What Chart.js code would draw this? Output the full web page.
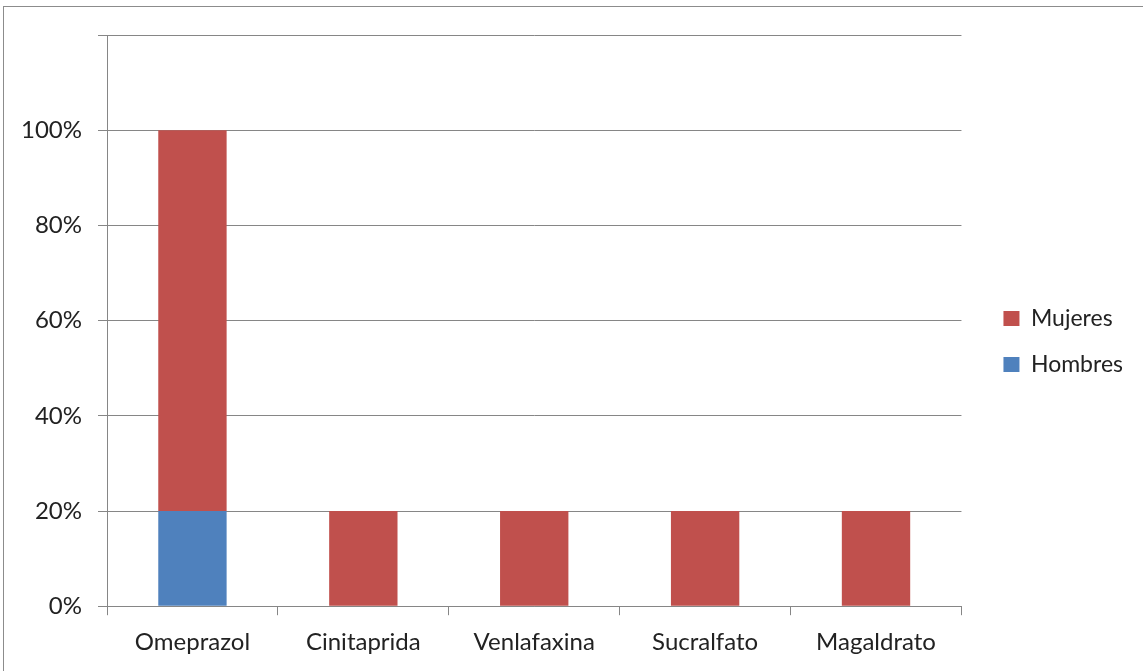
<!DOCTYPE html>
<html>
<head>
<meta charset="utf-8">
<script src="https://cdn.jsdelivr.net/npm/chart.js@4/dist/chart.umd.min.js"></script>
<style>
  html, body { margin: 0; padding: 0; background: #fff; overflow: hidden; }
  #frame { position: absolute; left: 3px; top: 6px; width: 1200px; height: 700px; border: 1px solid #8c8c8c; }
  #wrap { position: absolute; left: 0; top: 0; width: 1143px; height: 671px; }
</style>
</head>
<body>
<div id="frame"></div>
<div id="wrap"><canvas id="chart"></canvas></div>
<script>
const categories = ['Omeprazol', 'Cinitaprida', 'Venlafaxina', 'Sucralfato', 'Magaldrato'];
const hombres = [20, 0, 0, 0, 0];
const mujeres = [80, 20, 20, 20, 20];
const yTicks = [0, 20, 40, 60, 80, 100, 120];

const gridGray = '#868686';
const fontFamily = "Lato, 'Open Sans', sans-serif";

// nudge the legend a bit right and up, like the spreadsheet layout
const legendShift = {
  id: 'legendShift',
  afterLayout(chart) {
    const lg = chart.legend;
    lg.left += 19; lg.right += 19;
    lg.top -= 11; lg.bottom -= 11;
  }
};

new Chart(document.getElementById('chart'), {
  type: 'bar',
  data: {
    labels: categories,
    datasets: [
      { label: 'Hombres', data: hombres, backgroundColor: '#4F81BD', barPercentage: 0.4, categoryPercentage: 1 },
      { label: 'Mujeres', data: mujeres, backgroundColor: '#C0504D', barPercentage: 0.4, categoryPercentage: 1 }
    ]
  },
  options: {
    responsive: true,
    maintainAspectRatio: false,
    animation: false,
    layout: { padding: { left: 0, right: 29, top: 35, bottom: 1 } },
    plugins: {
      tooltip: { enabled: false },
      legend: {
        position: 'right',
        reverse: true,
        labels: {
          boxWidth: 16,
          boxHeight: 15,
          padding: 23,
          color: '#222',
          font: { family: fontFamily, size: 23 }
        }
      }
    },
    scales: {
      x: {
        stacked: true,
        grid: { display: true, drawOnChartArea: false, offset: true, color: gridGray, tickLength: 9 },
        border: { color: gridGray },
        ticks: { color: '#222', padding: 13, font: { family: fontFamily, size: 24 } }
      },
      y: {
        stacked: true,
        min: 0,
        max: 120,
        afterBuildTicks: (scale) => { scale.ticks = yTicks.map(v => ({ value: v })); },
        afterFit: (scale) => { scale.width = 107; },
        grid: { color: gridGray, tickLength: 9 },
        border: { color: gridGray },
        ticks: {
          color: '#222',
          padding: 16,
          font: { family: fontFamily, size: 24 },
          callback: (v) => v === 120 ? '' : v + '%'
        }
      }
    }
  },
  plugins: [legendShift]
});
</script>
</body>
</html>
